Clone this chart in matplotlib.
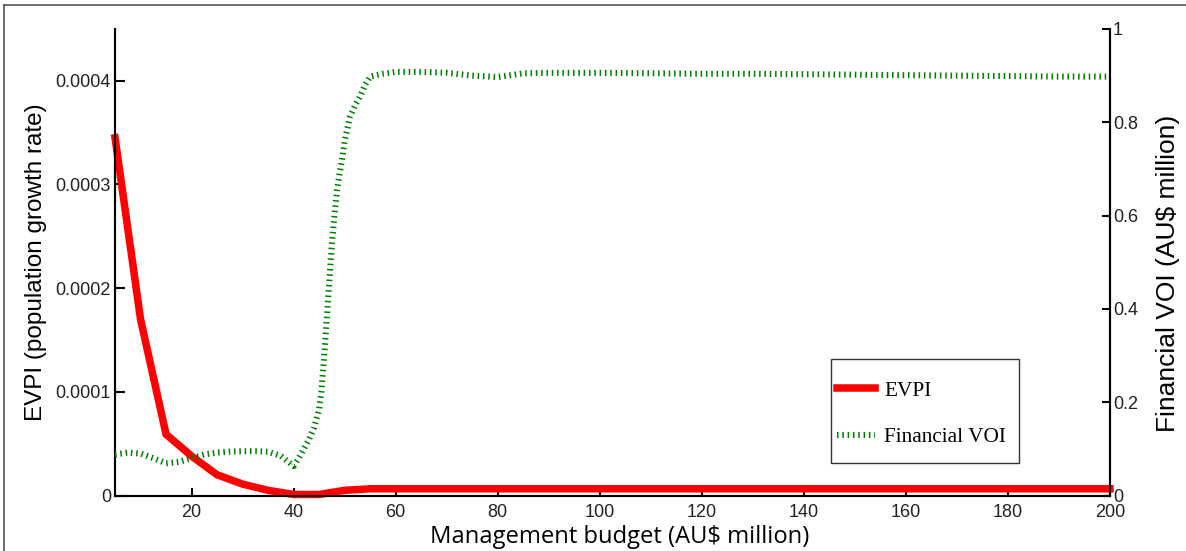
import matplotlib
matplotlib.use("Agg")
import matplotlib.pyplot as plt
from matplotlib.lines import Line2D
from matplotlib.patches import Rectangle

# Management budget (AU$ million) and EVPI (population growth rate)
budget_evpi = [5, 10, 15, 20, 25, 30, 35, 40, 45, 50, 55, 60, 80, 100, 120, 140, 160, 180, 200]
evpi = [3.45e-4, 1.70e-4, 0.59e-4, 0.38e-4, 0.20e-4, 0.11e-4, 0.05e-4, 0.01e-4, 0.01e-4,
        0.05e-4, 0.065e-4, 0.065e-4, 0.065e-4, 0.065e-4, 0.065e-4, 0.065e-4, 0.065e-4,
        0.065e-4, 0.065e-4]

# Financial value of information (AU$ million)
budget_voi = [5, 7.5, 10, 12.5, 15, 17.5, 20, 22.5, 25, 27.5, 30, 32.5, 35, 37.5, 40,
              41, 42, 43, 44, 45, 45.5, 46, 46.5, 47, 47.5, 48, 48.5, 49, 49.5, 50,
              51, 52, 53, 54, 55, 57.5, 60, 65, 70, 75, 80, 85, 90, 100, 110, 120,
              130, 140, 150, 160, 170, 180, 190, 200]
financial_voi = [0.088, 0.092, 0.090, 0.080, 0.069, 0.072, 0.080, 0.088, 0.092, 0.094,
                 0.095, 0.095, 0.094, 0.085, 0.063, 0.080, 0.100, 0.120, 0.145, 0.185,
                 0.230, 0.300, 0.380, 0.460, 0.540, 0.600, 0.655, 0.690, 0.720, 0.760,
                 0.810, 0.835, 0.855, 0.880, 0.898, 0.904, 0.908, 0.908, 0.906, 0.900,
                 0.897, 0.905, 0.906, 0.906, 0.905, 0.904, 0.904, 0.903, 0.902, 0.901,
                 0.900, 0.899, 0.898, 0.898]

x_ticks = [20, 40, 60, 80, 100, 120, 140, 160, 180, 200]
left_ticks = [0, 0.0001, 0.0002, 0.0003, 0.0004]
left_labels = ["0", "0.0001", "0.0002", "0.0003", "0.0004"]
right_ticks = [0, 0.2, 0.4, 0.6, 0.8, 1]
right_labels = ["0", "0.2", "0.4", "0.6", "0.8", "1"]

tick_font = dict(family="Liberation Sans", size=13, color="#222222")
W, H = 1186, 551

fig = plt.figure(figsize=(W / 100, H / 100), dpi=100)
ax = fig.add_axes([0.097, 0.1007, 0.8389, 0.8467])
ax2 = ax.twinx()

evpi_style = dict(color="#ff0000", lw=5.4)
voi_style = dict(color="#008000", lw=4.4, linestyle=(0, (0.25, 0.62)), dash_capstyle="butt")

ax.plot(budget_evpi, evpi, solid_joinstyle="miter", clip_on=False, zorder=3, **evpi_style)
ax2.plot(budget_voi, financial_voi, zorder=4, **voi_style)

ax.set_xlim(5, 200)
ax.set_ylim(0, 0.00045)
ax2.set_ylim(0, 1)

for a in (ax, ax2):
    a.spines["top"].set_visible(False)
    for s in a.spines.values():
        s.set_linewidth(1.5)
        s.set_color("black")

ax.set_xticks(x_ticks)
ax.set_xticklabels([str(t) for t in x_ticks], fontdict=tick_font)
ax.set_yticks(left_ticks)
ax.set_yticklabels(left_labels, fontdict=tick_font)
ax2.set_yticks(right_ticks)
ax2.set_yticklabels(right_labels, fontdict=tick_font)

ax.tick_params(axis="both", direction="in", length=7, width=1.5, pad=3)
ax.tick_params(axis="x", length=6, pad=6)
ax2.tick_params(axis="y", direction="in", length=6, width=1.5, pad=2)

ax.set_xlabel("Management budget (AU$ million)", family="Open Sans", fontsize=17.1,
              labelpad=3)
ax.xaxis.label.set_x(0.507)
ax.set_ylabel("EVPI (population growth rate)", family="Liberation Sans", fontsize=17.5,
              labelpad=6)
ax2.set_ylabel("Financial VOI (AU$ million)", family="Liberation Sans", fontsize=19,
               labelpad=13)
ax2.yaxis.label.set_y(0.476)

# legend entries, with a plain frame around them
handles = [Line2D([], [], **evpi_style), Line2D([], [], **voi_style)]
leg = ax2.legend(handles, ["EVPI", "Financial VOI"], loc="center left",
                 bbox_to_anchor=(837 / W, 1 - 414 / H), bbox_transform=fig.transFigure,
                 prop=dict(family="Liberation Serif", size=15.3), frameon=False,
                 handlelength=1.8, handletextpad=0.42, labelspacing=1.25,
                 borderpad=0, borderaxespad=0)
fig.add_artist(Rectangle((831 / W, 1 - 463 / H), 188 / W, 104 / H, transform=fig.transFigure,
                         facecolor="none", edgecolor="#333333", lw=1.0, zorder=5))

# figure border along the top and left edges
fig.add_artist(Line2D([4 / W, 1], [1 - 5 / H, 1 - 5 / H], transform=fig.transFigure,
                      color="#555555", lw=1.2))
fig.add_artist(Line2D([4 / W, 4 / W], [0, 1 - 5 / H], transform=fig.transFigure,
                      color="#555555", lw=1.2))

fig.savefig("out.png", dpi=100)
